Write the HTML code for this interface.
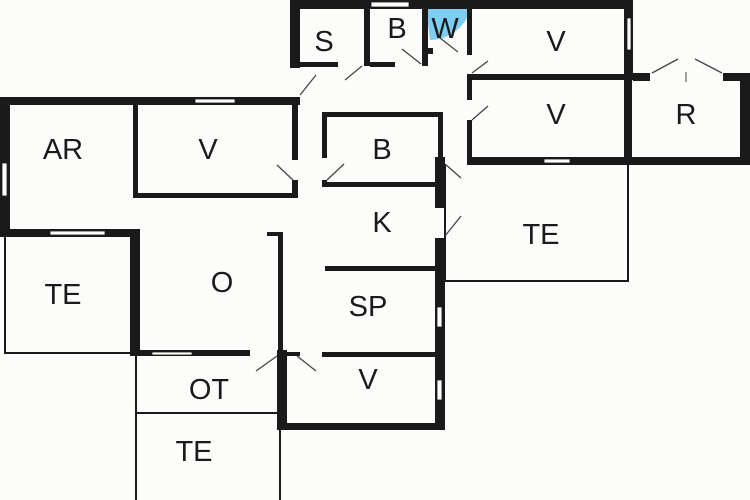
<!DOCTYPE html>
<html><head><meta charset="utf-8"><style>
html,body{margin:0;padding:0;background:#fcfcfa;}
svg{display:block}
text{font-family:"Liberation Sans",sans-serif;font-size:29px;fill:#1a1a1a;text-anchor:middle;dominant-baseline:central}
</style></head><body>
<svg width="750" height="500" viewBox="0 0 750 500" xmlns="http://www.w3.org/2000/svg">
<rect width="750" height="500" fill="#fcfcfa"/>
<!-- thin outlines -->
<g fill="none" stroke="#1a1a1a" stroke-width="2">
<path d="M445 165 V281 H628 V165"/>
<path d="M5 237 V353 H132"/>
<path d="M136 356 V500 M136 413 H278 M280 430 V500"/>
</g>
<!-- blue -->
<path d="M426 7 H469 L469 14 A43 43 0 0 1 430 40 Z" fill="#7fcdf0"/>
<g fill="#1a1a1a">
<!-- top block -->
<rect x="290" y="0" width="343" height="9"/>
<rect x="290" y="0" width="10" height="68"/>
<rect x="364" y="0" width="6" height="66"/>
<rect x="300" y="62" width="38" height="5"/>
<rect x="370" y="62" width="25" height="5"/>
<rect x="422" y="0" width="6" height="66"/>
<rect x="428" y="48" width="5" height="6"/>
<rect x="467" y="0" width="5" height="55"/>
<rect x="624" y="0" width="9" height="80"/>
<rect x="467" y="74" width="166" height="6"/>
<rect x="633" y="73" width="17" height="8"/>
<rect x="723" y="73" width="27" height="8"/>
<rect x="740" y="73" width="10" height="92"/>
<rect x="467" y="74" width="5" height="26"/>
<rect x="467" y="120" width="5" height="45"/>
<rect x="467" y="157" width="283" height="8"/>
<rect x="624" y="74" width="8" height="91"/>
<!-- middle B -->
<rect x="322" y="112" width="121" height="5"/>
<rect x="322" y="112" width="5" height="46"/>
<rect x="322" y="180" width="5" height="7"/>
<rect x="322" y="182" width="115" height="5"/>
<rect x="435" y="157" width="10" height="51"/>
<rect x="438" y="112" width="5" height="50"/>
<rect x="435" y="238" width="10" height="192"/>
<rect x="325" y="266" width="115" height="5"/>
<!-- left block -->
<rect x="0" y="97" width="300" height="8"/>
<rect x="0" y="97" width="10" height="140"/>
<rect x="133" y="97" width="5" height="101"/>
<rect x="133" y="193" width="165" height="5"/>
<rect x="292" y="97" width="6" height="63"/>
<rect x="292" y="180" width="6" height="18"/>
<rect x="0" y="229" width="140" height="8"/>
<rect x="130" y="229" width="10" height="127"/>
<rect x="130" y="350" width="120" height="6"/>
<rect x="267" y="232" width="16" height="4"/>
<rect x="278" y="232" width="5" height="123"/>
<rect x="277" y="350" width="10" height="80"/>
<rect x="277" y="423" width="168" height="7"/>
<rect x="287" y="352" width="13" height="4"/>
<rect x="322" y="352" width="118" height="5"/>
</g>
<!-- windows -->
<g fill="#fcfcfa" stroke="#1a1a1a" stroke-width="0.8">
<rect x="371" y="2" width="38" height="5"/>
<rect x="627" y="18" width="4" height="32"/>
<rect x="544" y="159" width="26" height="4"/>
<rect x="195" y="99" width="40" height="4"/>
<rect x="2" y="163" width="5" height="33"/>
<rect x="50" y="231" width="55" height="4"/>
<rect x="152" y="352" width="40" height="3"/>
<rect x="437" y="307" width="5" height="20"/>
<rect x="437" y="380" width="5" height="20"/>
</g>
<!-- door swings -->
<g stroke="#444" stroke-width="1.3" fill="none">
<line x1="300" y1="95" x2="316" y2="75"/>
<line x1="345" y1="80" x2="362" y2="66"/>
<line x1="402" y1="49" x2="421" y2="64"/>
<line x1="440" y1="38" x2="458" y2="52"/>
<line x1="472" y1="73" x2="488" y2="61"/>
<line x1="472" y1="120" x2="488" y2="106"/>
<line x1="652" y1="73" x2="678" y2="59"/>
<line x1="695" y1="59" x2="722" y2="73"/>
<line x1="686" y1="72" x2="686" y2="82" stroke-width="1"/>
<line x1="277" y1="165" x2="293" y2="180"/>
<line x1="327" y1="180" x2="344" y2="164"/>
<line x1="445" y1="164" x2="461" y2="178"/>
<line x1="445" y1="236" x2="461" y2="216"/>
<line x1="256" y1="371" x2="277" y2="356"/>
<line x1="297" y1="356" x2="316" y2="371"/>
</g>
<text x="324" y="42">S</text>
<text x="397" y="29">B</text>
<text x="445" y="29">W</text>
<text x="556" y="42">V</text>
<text x="556" y="115">V</text>
<text x="686" y="115">R</text>
<text x="63" y="150">AR</text>
<text x="208" y="150">V</text>
<text x="382" y="150">B</text>
<text x="382" y="223">K</text>
<text x="541" y="235">TE</text>
<text x="63" y="295">TE</text>
<text x="222" y="283">O</text>
<text x="368" y="307">SP</text>
<text x="368" y="380">V</text>
<text x="209" y="390">OT</text>
<text x="194" y="452">TE</text>
</svg>
</body></html>
